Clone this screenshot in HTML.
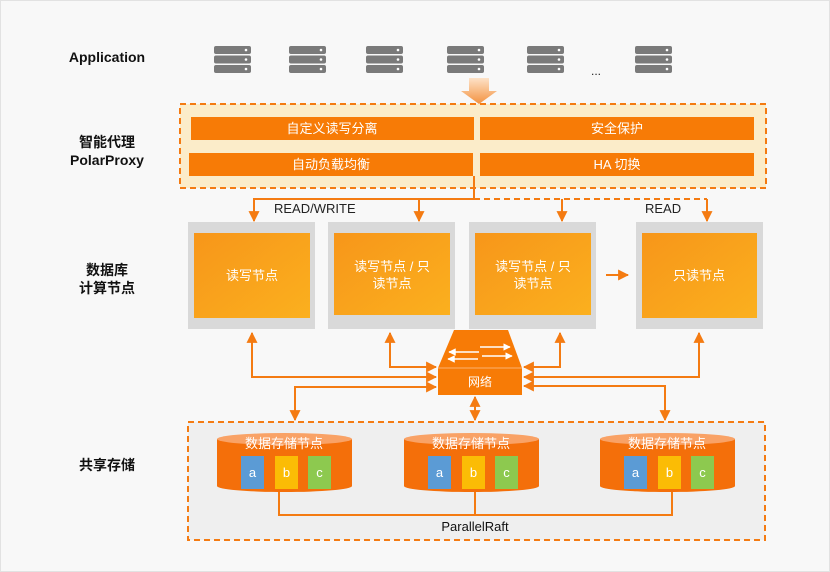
<!DOCTYPE html>
<html><head><meta charset="utf-8"><style>
body{margin:0;background:#fff}
svg{display:block}
text{font-family:"Liberation Sans","Noto Sans CJK SC",sans-serif}
</style></head><body>
<svg width="830" height="572" viewBox="0 0 830 572" xmlns="http://www.w3.org/2000/svg">
<defs>
<linearGradient id="og" x1="0" y1="0" x2="1" y2="1"><stop offset="0" stop-color="#f7961a"/><stop offset="1" stop-color="#fbb01e"/></linearGradient>
<linearGradient id="ag" x1="0" y1="0" x2="0" y2="1"><stop offset="0" stop-color="#fde2c8"/><stop offset="1" stop-color="#f39240"/></linearGradient>
<marker id="ar" viewBox="0 0 10 10" refX="9" refY="5" markerWidth="5.5" markerHeight="5.5" orient="auto-start-reverse"><path d="M0 0L10 5L0 10z" fill="#f47b12"/></marker>
<marker id="wa" viewBox="0 0 10 10" refX="9" refY="5" markerWidth="5" markerHeight="5" orient="auto-start-reverse"><path d="M0 0L10 5L0 10z" fill="#fff"/></marker>
<g id="srv"><rect x="0" y="0" width="37" height="8" rx="2" fill="#7a7a7a"/><rect x="0" y="9.5" width="37" height="8" rx="2" fill="#7a7a7a"/><rect x="0" y="19" width="37" height="8" rx="2" fill="#7a7a7a"/><circle cx="32" cy="4" r="1.3" fill="#fff"/><circle cx="32" cy="13.5" r="1.3" fill="#fff"/><circle cx="32" cy="23" r="1.3" fill="#fff"/></g>
</defs>
<rect x="0.5" y="0.5" width="829" height="571" fill="#f8f8f8" stroke="#e2e2e2"/>
<g font-weight="bold" font-size="14" fill="#111" text-anchor="middle">
<text x="107" y="62">Application</text>
<text x="107" y="147">智能代理</text><text x="107" y="165">PolarProxy</text>
<text x="107" y="275">数据库</text><text x="107" y="293">计算节点</text>
<text x="107" y="470">共享存储</text>
</g>
<use href="#srv" x="214" y="46"/><use href="#srv" x="289" y="46"/><use href="#srv" x="366" y="46"/><use href="#srv" x="447" y="46"/><use href="#srv" x="527" y="46"/><use href="#srv" x="635" y="46"/>
<text x="596" y="75" font-size="12" text-anchor="middle" fill="#222">...</text>
<path d="M469 78h20v13h8l-18 13l-18-13h8z" fill="url(#ag)"/>
<rect x="180" y="104" width="586" height="84" fill="#fbecc9" stroke="#f47b12" stroke-width="2" stroke-dasharray="6 4"/>
<g fill="#f77b06"><rect x="191" y="117" width="283" height="23"/><rect x="480" y="117" width="274" height="23"/><rect x="189" y="153" width="284" height="23"/><rect x="480" y="153" width="274" height="23"/></g>
<g fill="#fff" font-size="13" text-anchor="middle"><text x="332" y="133">自定义读写分离</text><text x="617" y="133">安全保护</text><text x="331" y="169">自动负载均衡</text><text x="617" y="169">HA 切换</text></g>
<g stroke="#f47b12" stroke-width="2" fill="none">
<path d="M474 176v23H254v22" marker-end="url(#ar)"/>
<path d="M419 199v22" marker-end="url(#ar)"/>
<path d="M474 199H707" stroke-dasharray="6 4"/>
<path d="M562 199v22" marker-end="url(#ar)"/>
<path d="M707 199v22" marker-end="url(#ar)"/>
</g>
<text x="274" y="213" font-size="13" fill="#222">READ/WRITE</text>
<text x="645" y="213" font-size="13" fill="#222">READ</text>
<g fill="#d9d9d9"><rect x="188" y="222" width="127" height="107"/><rect x="328" y="222" width="127" height="107"/><rect x="469" y="222" width="127" height="107"/><rect x="636" y="222" width="127" height="107"/></g>
<g fill="url(#og)"><rect x="194" y="233" width="116" height="85"/><rect x="334" y="233" width="116" height="82"/><rect x="475" y="233" width="116" height="82"/><rect x="642" y="233" width="115" height="85"/></g>
<g fill="#fff" font-size="13" text-anchor="middle">
<text x="252" y="280">读写节点</text>
<text x="392" y="271">读写节点 / 只</text><text x="392" y="288">读节点</text>
<text x="533" y="271">读写节点 / 只</text><text x="533" y="288">读节点</text>
<text x="699" y="280">只读节点</text>
</g>
<path d="M606 275h22" stroke="#f47b12" stroke-width="2" marker-end="url(#ar)"/>
<g stroke="#f47b12" stroke-width="2" fill="none">
<path d="M252 333v44h184" marker-start="url(#ar)" marker-end="url(#ar)"/>
<path d="M390 333v34h46" marker-start="url(#ar)" marker-end="url(#ar)"/>
<path d="M560 333v34h-36" marker-start="url(#ar)" marker-end="url(#ar)"/>
<path d="M699 333v44h-175" marker-start="url(#ar)" marker-end="url(#ar)"/>
<path d="M436 387H295v33" marker-start="url(#ar)" marker-end="url(#ar)"/>
<path d="M475 397v23" marker-start="url(#ar)" marker-end="url(#ar)"/>
<path d="M524 386h141v34" marker-start="url(#ar)" marker-end="url(#ar)"/>
</g>
<path d="M454 330h54l14 38H438z" fill="#f77b06"/>
<rect x="438" y="368" width="84" height="27" fill="#f77b06"/>
<line x1="438" y1="368" x2="522" y2="368" stroke="#fbb070" stroke-width="1"/>
<g stroke="#fff" stroke-width="1.5"><path d="M480 347h30" marker-end="url(#wa)"/><path d="M479 352h-30" marker-end="url(#wa)"/><path d="M478 359h-30" marker-end="url(#wa)"/><path d="M482 356h30" marker-end="url(#wa)"/></g>
<text x="480" y="386" fill="#fff" font-size="12" text-anchor="middle">网络</text>
<rect x="188" y="422" width="577" height="118" fill="#efefef" stroke="#f47b12" stroke-width="2" stroke-dasharray="6 4"/>
<g stroke="#f47b12" stroke-width="2" fill="none"><path d="M279 490v25h393v-25M475 490v25"/></g>
<text x="475" y="531" font-size="13" text-anchor="middle" fill="#111">ParallelRaft</text>
<g id="cyl">
<path d="M217 439v47a67 6 0 0 0 135 0v-47z" fill="#f46f0a"/>
<ellipse cx="284.5" cy="439" rx="67.5" ry="6" fill="#f9a266"/>
<text x="284" y="448" fill="#fff" font-size="13" text-anchor="middle">数据存储节点</text>
<rect x="241" y="456" width="23" height="33" fill="#5b9bd5"/><rect x="275" y="456" width="23" height="33" fill="#fbbc05"/><rect x="308" y="456" width="23" height="33" fill="#8dc94f"/>
<g fill="#fff" font-size="13" text-anchor="middle"><text x="252.5" y="477">a</text><text x="286.5" y="477">b</text><text x="319.5" y="477">c</text></g>
</g>
<use href="#cyl" x="187"/>
<use href="#cyl" x="383"/>
</svg>
</body></html>
